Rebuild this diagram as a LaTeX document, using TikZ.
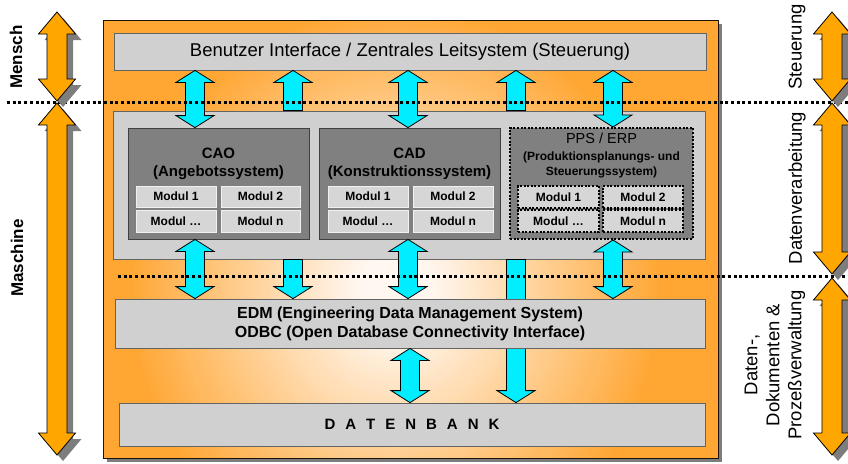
\documentclass[tikz,border=0pt]{standalone}
\usepackage{fontspec}
\setmainfont{Liberation Sans}
\usetikzlibrary{calc}
\definecolor{mainor}{RGB}{255,166,51}
\definecolor{glowc}{RGB}{255,247,240}
\definecolor{arror}{RGB}{255,166,0}
\definecolor{cyanA}{RGB}{0,238,255}
\definecolor{lgray}{RGB}{208,208,208}
\definecolor{dgray}{RGB}{128,128,128}
\definecolor{mgray}{RGB}{214,214,214}
\definecolor{edgegray}{RGB}{100,100,100}
\definecolor{shadowgray}{RGB}{125,125,125}
\tikzset{
  lbox/.style={draw=edgegray, fill=lgray, line width=0.8pt, inner sep=0pt},
  dbox/.style={draw=black!75, fill=dgray, line width=0.8pt, inner sep=0pt},
  modbox/.style={fill=mgray, draw=white!70!lgray, line width=0.6pt, inner sep=0pt, font=\bfseries\fontsize{12}{14}\selectfont},
  dotborder/.style={draw=black, line width=2pt, dash pattern=on 2pt off 1.6pt},
  cyanarr/.style={fill=cyanA, draw=black, line width=0.8pt, line join=miter},
  orarr/.style={fill=arror, draw=black, line width=0.8pt, line join=miter},
  sep/.style={draw=black, line width=3pt, dash pattern=on 3pt off 2.7pt},
  ttl/.style={align=center, inner sep=0pt, font=\bfseries\fontsize{15}{18}\selectfont},
  ppsttl/.style={inner sep=0pt, font=\fontsize{14.5}{16}\selectfont},
  ppssub/.style={align=center, inner sep=0pt, font=\bfseries\fontsize{12}{15}\selectfont},
  leftlab/.style={rotate=90, inner sep=0pt, font=\bfseries\fontsize{17}{20}\selectfont},
  rightlab/.style={rotate=90, align=center, inner sep=0pt, font=\fontsize{18.5}{22}\selectfont},
}
\newcommand\bx[7]{\node[#1, minimum width={(#4-#2)*1pt}, minimum height={(#5-#3)*1pt}] (#6) at ({(#2+#4)/2},{(#3+#5)/2}) {#7};}
\newcommand\arrDbl[2]{\filldraw[cyanarr] let \p1=(#1),\p2=(#2) in (\x1,\y1) -- ({\x1+19pt},{\y1-12pt}) -- ({\x1+9.5pt},{\y1-12pt}) -- ({\x1+9.5pt},{\y2+12pt}) -- ({\x1+19pt},{\y2+12pt}) -- (\x1,\y2) -- ({\x1-19pt},{\y2+12pt}) -- ({\x1-9.5pt},{\y2+12pt}) -- ({\x1-9.5pt},{\y1-12pt}) -- ({\x1-19pt},{\y1-12pt}) -- cycle;}
\newcommand\arrUp[2]{\filldraw[cyanarr] let \p1=(#1),\p2=(#2) in (\x1,\y1) -- ({\x1+19pt},{\y1-12pt}) -- ({\x1+9.5pt},{\y1-12pt}) -- ({\x1+9.5pt},\y2) -- ({\x1-9.5pt},\y2) -- ({\x1-9.5pt},{\y1-12pt}) -- ({\x1-19pt},{\y1-12pt}) -- cycle;}
\newcommand\arrDown[2]{\filldraw[cyanarr] let \p1=(#1),\p2=(#2) in ({\x1-9.5pt},\y1) -- ({\x1+9.5pt},\y1) -- ({\x1+9.5pt},{\y2+12pt}) -- ({\x1+19pt},{\y2+12pt}) -- (\x1,\y2) -- ({\x1-19pt},{\y2+12pt}) -- ({\x1-9.5pt},{\y2+12pt}) -- cycle;}
\newcommand\sideArr[2]{%
  \begin{scope}[transform canvas={xshift=6pt,yshift=-6pt}]
  \fill[shadowgray] let \p1=(#1),\p2=(#2) in (\x1,\y1) -- ({\x1+18.5pt},{\y1-22pt}) -- ({\x1+10pt},{\y1-22pt}) -- ({\x1+10pt},{\y2+22pt}) -- ({\x1+18.5pt},{\y2+22pt}) -- (\x1,\y2) -- ({\x1-18.5pt},{\y2+22pt}) -- ({\x1-10pt},{\y2+22pt}) -- ({\x1-10pt},{\y1-22pt}) -- ({\x1-18.5pt},{\y1-22pt}) -- cycle;
  \end{scope}
  \filldraw[orarr] let \p1=(#1),\p2=(#2) in (\x1,\y1) -- ({\x1+18.5pt},{\y1-22pt}) -- ({\x1+10pt},{\y1-22pt}) -- ({\x1+10pt},{\y2+22pt}) -- ({\x1+18.5pt},{\y2+22pt}) -- (\x1,\y2) -- ({\x1-18.5pt},{\y2+22pt}) -- ({\x1-10pt},{\y2+22pt}) -- ({\x1-10pt},{\y1-22pt}) -- ({\x1-18.5pt},{\y1-22pt}) -- cycle;}
\newcommand\gp{\hspace{10pt}}
\begin{document}
\begin{tikzpicture}[x=1pt,y=-1pt]
\useasboundingbox (0,0) rectangle (848,463);
% main frame
\fill[shadowgray] (107,24) rectangle (722,462);
\begin{scope}
  \clip (103,20) rectangle (718,458);
  \fill[mainor] (103,20) rectangle (718,458);
  \foreach \i in {0,...,60} {
    \pgfmathsetmacro\rx{265*(1-\i/60)+6}
    \pgfmathsetmacro\ry{285*(1-\i/60)+6}
    \pgfmathtruncatemacro\pc{min(100,115*\i/60)}
    \fill[glowc!\pc!mainor] (395,290) ellipse [x radius=\rx pt, y radius=\ry pt];
  }
\end{scope}
\node[draw=black!85!brown, line width=1pt, minimum width=615pt, minimum height=438pt, inner sep=0pt] (main) at (410.5,239) {};
% boxes
\bx{lbox, font=\fontsize{18.5}{22}\selectfont}{114}{33}{706}{70}{ui}{Benutzer Interface / Zentrales Leitsystem (Steuerung)}
\bx{lbox}{113}{111}{705}{259}{panel}{}
\bx{dbox}{128}{128}{309}{239}{cao}{}
\bx{dbox}{319}{128}{500}{239}{cad}{}
\bx{dbox,dotborder}{510}{128}{693}{239}{pps}{}
\node[ttl] (caot) at (218.5,164) {CAO\\(Angebotssystem)};
\node[ttl] (cadt) at (409.5,164) {CAD\\(Konstruktionssystem)};
\node[ppsttl] (ppst) at (601.5,138) {PPS / ERP};
\node[ppssub] (ppss) at (601.5,164.5) {(Produktionsplanungs- und\\Steuerungssystem)};
\bx{modbox}{136}{186}{216}{207}{cao1}{Modul 1}
\bx{modbox}{221}{186}{300}{207}{cao2}{Modul 2}
\bx{modbox}{136}{210}{216}{232}{cao3}{Modul …}
\bx{modbox}{221}{210}{300}{232}{cao4}{Modul n}
\bx{modbox}{328}{186}{408}{207}{cad1}{Modul 1}
\bx{modbox}{413}{186}{493}{207}{cad2}{Modul 2}
\bx{modbox}{328}{210}{408}{232}{cad3}{Modul …}
\bx{modbox}{413}{210}{493}{232}{cad4}{Modul n}
\bx{modbox,dotborder}{518}{186}{599}{208}{pps1}{Modul 1}
\bx{modbox,dotborder}{603}{186}{683}{208}{pps2}{Modul 2}
\bx{modbox,dotborder}{518}{210}{599}{232}{pps3}{Modul …}
\bx{modbox,dotborder}{603}{210}{683}{232}{pps4}{Modul n}
% arrow columns
\coordinate (a1) at (195,0);
\coordinate (a2) at (293,0);
\coordinate (a3) at (408,0);
\coordinate (a4) at (516,0);
\coordinate (a5) at (613,0);
\coordinate (a6) at (410,0);
\bx{lbox}{119}{403}{705}{446}{db}{\bfseries\fontsize{15}{18}\selectfont D\gp A\gp T\gp E\gp N\gp B\gp A\gp N\gp K}
\arrDown{panel.south -| a4}{db.north -| a4}
\bx{lbox, align=center, font=\bfseries\fontsize{16}{19}\selectfont}{115}{299}{705}{348}{edm}{EDM (Engineering Data Management System)\\ODBC (Open Database Connectivity Interface)}
% cyan arrows
\arrDbl{ui.south -| a1}{cao.north -| a1}
\arrUp{ui.south -| a2}{panel.north -| a2}
\arrDbl{ui.south -| a3}{cad.north -| a3}
\arrUp{ui.south -| a4}{panel.north -| a4}
\arrDbl{ui.south -| a5}{pps.north -| a5}
\arrDbl{cao.south -| a1}{edm.north -| a1}
\arrDown{panel.south -| a2}{edm.north -| a2}
\arrDbl{cad.south -| a3}{edm.north -| a3}
\arrDbl{pps.south -| a5}{edm.north -| a5}
\arrDbl{edm.south -| a6}{db.north -| a6}
% separators
\coordinate (l1a) at (7,102);
\coordinate (l1b) at (848,102);
\coordinate (l2a) at (118,276);
\coordinate (l2b) at (848,276);
\draw[sep] (l1a) -- (l1b);
\draw[sep] (l2a) -- (l2b);
% side arrows
\coordinate (mT) at (57,12);   \coordinate (mB) at (57,101);
\coordinate (maT) at (57,103); \coordinate (maB) at (57,455);
\coordinate (sT) at (832,12);  \coordinate (sB) at (832,101);
\coordinate (dT) at (832,103); \coordinate (dB) at (832,274);
\coordinate (pT) at (832,278); \coordinate (pB) at (832,455);
\sideArr{mT}{mB}
\sideArr{maT}{maB}
\sideArr{sT}{sB}
\sideArr{dT}{dB}
\sideArr{pT}{pB}
% side labels
\node[leftlab] (mensch) at (16,57) {Mensch};
\node[leftlab] (maschine) at (17,258) {Maschine};
\node[rightlab] (steu) at (797,47) {Steuerung};
\node[rightlab] (dv) at (797,188) {Datenverarbeitung};
\node[rightlab] (ddp) at (775,365) {Daten-,\\Dokumenten \&\\Prozeßverwaltung};
\end{tikzpicture}
\end{document}
